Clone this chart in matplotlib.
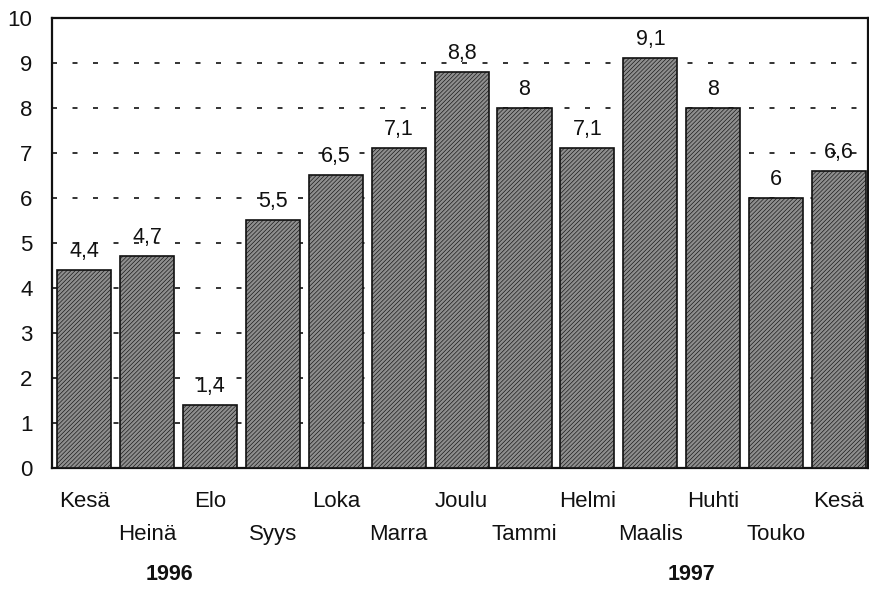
import numpy as np
import matplotlib
matplotlib.use('Agg')
import matplotlib.pyplot as plt

months = ['Kesä', 'Heinä', 'Elo', 'Syys', 'Loka', 'Marra', 'Joulu',
          'Tammi', 'Helmi', 'Maalis', 'Huhti', 'Touko', 'Kesä']
values = [4.4, 4.7, 1.4, 5.5, 6.5, 7.1, 8.8, 8, 7.1, 9.1, 8, 6, 6.6]
years = ['1996', '1997']
year_pos = [1.35, 9.65]

plt.rcParams['font.family'] = ['Liberation Sans', 'DejaVu Sans']
plt.rcParams['hatch.linewidth'] = 0.45
plt.rcParams['hatch.color'] = '#222222'

fig = plt.figure(figsize=(8.7, 5.9), dpi=100)
ax = fig.add_axes([0.0598, 0.2068, 0.9379, 0.7627])

x = np.arange(len(values))
ax.bar(x, values, width=0.86, facecolor='#8e8e8e', edgecolor='#111111',
       linewidth=1.2, hatch='////////', zorder=3)

for xi, v in zip(x, values):
    txt = ('%g' % v).replace('.', ',')
    ax.annotate(txt, (xi, v), xytext=(0, 9.4), textcoords='offset points',
                ha='center', va='baseline', fontsize=15.5, color='#111111')

# month labels in two staggered rows
for xi, m in zip(x, months):
    off = -24 if xi % 2 == 0 else -48
    ax.annotate(m, (xi, 0), xycoords=('data', 'axes fraction'),
                xytext=(0, off), textcoords='offset points',
                ha='center', va='center', fontsize=16, color='#111111')

for yp, yr in zip(year_pos, years):
    ax.annotate(yr, (yp, 0), xycoords=('data', 'axes fraction'),
                xytext=(0, -77), textcoords='offset points',
                ha='center', va='center', fontsize=15.5, fontweight='bold',
                color='#111111')

ax.set_xlim(-0.51, 12.46)
ax.set_ylim(0, 10)
ax.set_yticks(range(0, 11))
ax.set_xticks([])
ax.tick_params(axis='y', length=0, pad=14, labelsize=16, labelcolor='#111111')
ax.grid(axis='y', color='#111111', linewidth=1.2, linestyle=(0, (3, 9.3)))
ax.set_axisbelow(True)
for s in ax.spines.values():
    s.set_linewidth(1.6)
    s.set_color('#111111')

plt.savefig('out.png', dpi=100)
